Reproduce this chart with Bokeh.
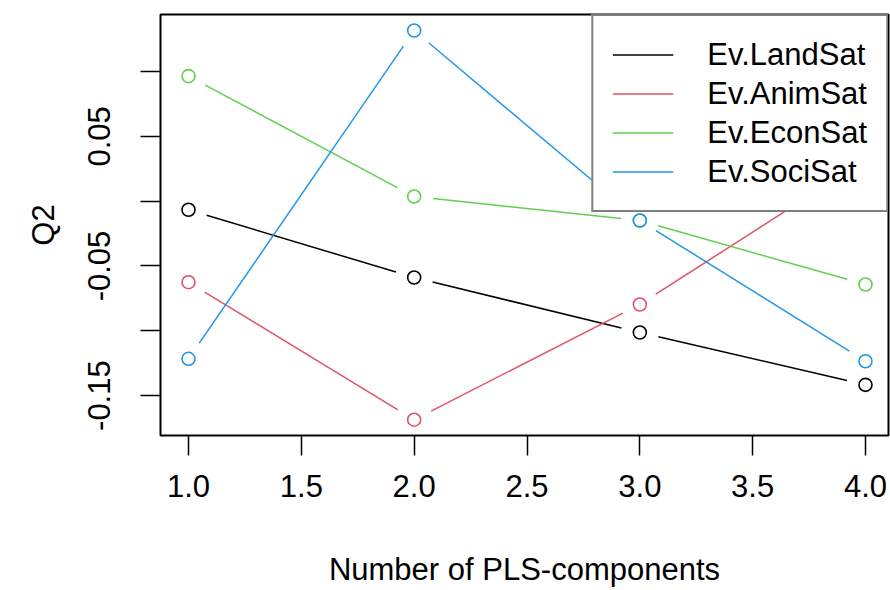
import numpy as np
from bokeh.plotting import figure
from bokeh.models import FixedTicker, PrintfTickFormatter, Range1d, Legend, LegendItem
from bokeh.embed import file_html
from bokeh.resources import INLINE

# ---- data ----
components = [1, 2, 3, 4]
land_sat = [-0.0066, -0.0589, -0.1013, -0.1417]
anim_sat = [-0.0625, -0.1686, -0.0797, 0.0320]
econ_sat = [0.0965, 0.0036, -0.0149, -0.0643]
soci_sat = [-0.1216, 0.1317, -0.0149, -0.1235]
series_names = ["Ev.LandSat", "Ev.AnimSat", "Ev.EconSat", "Ev.SociSat"]
series_values = [land_sat, anim_sat, econ_sat, soci_sat]
colors = ["#000000", "#DF536B", "#61D04F", "#2297E6"]
x_ticks = [1.0, 1.5, 2.0, 2.5, 3.0, 3.5, 4.0]
y_ticks_labelled = [-0.15, -0.05, 0.05]
y_ticks_unlabelled = [-0.10, 0.0, 0.10]

# ---- layout ----
W, H = 890, 590
BL, BR, BT, BB = 160, 2, 14, 155
x_start, x_end = 0.8759, 4.1019
y_start, y_end = -0.18079, 0.14406
FONT = "Liberation Sans"

p = figure(width=W, height=H, output_backend="svg", toolbar_location=None,
           x_range=Range1d(x_start, x_end), y_range=Range1d(y_start, y_end),
           min_border_left=BL, min_border_right=BR, min_border_top=BT, min_border_bottom=BB,
           background_fill_color="white", border_fill_color="white")
p.grid.visible = False
p.outline_line_color = "black"
p.outline_line_width = 2
p.outline_line_alpha = 1

# type="b": lines with gaps around the points
frame_w = W - BL - BR
frame_h = H - BT - BB
sx = frame_w / (x_end - x_start)
sy = frame_h / (y_end - y_start)
gap = 19.0

items = []
for name, vals, col in zip(series_names, series_values, colors):
    x0s, y0s, x1s, y1s = [], [], [], []
    for i in range(len(components) - 1):
        xa, ya = components[i], vals[i]
        xb, yb = components[i + 1], vals[i + 1]
        dxp, dyp = (xb - xa) * sx, (yb - ya) * sy
        L = float(np.hypot(dxp, dyp))
        if L <= 2 * gap:
            continue
        f = gap / L
        x0s.append(xa + (xb - xa) * f)
        y0s.append(ya + (yb - ya) * f)
        x1s.append(xb - (xb - xa) * f)
        y1s.append(yb - (yb - ya) * f)
    seg = p.segment(x0=x0s, y0=y0s, x1=x1s, y1=y1s, line_color=col, line_width=1.5)
    p.scatter(x=components, y=vals, marker="circle", size=13, fill_color=None,
              line_color=col, line_width=1.6)
    items.append(LegendItem(label=name, renderers=[seg]))

legend = Legend(items=items, location="top_right", margin=0, padding=19,
                glyph_width=61, glyph_height=39, label_height=39, spacing=0,
                label_standoff=34, label_text_font=FONT, label_text_font_size="31px",
                label_text_color="black", border_line_color="black", border_line_width=2,
                background_fill_color="white", background_fill_alpha=1.0)
p.add_layout(legend, "center")

# x axis
xa = p.xaxis[0]
xa.ticker = FixedTicker(ticks=x_ticks)
xa.formatter = PrintfTickFormatter(format="%.1f")
xa.axis_label = "Number of PLS-components"
xa.axis_label_text_font = FONT
xa.axis_label_text_font_style = "normal"
xa.axis_label_text_font_size = "31px"
xa.axis_label_text_color = "black"
xa.axis_label_text_line_height = 0.8
xa.axis_label_standoff = 52
xa.major_label_text_font = FONT
xa.major_label_text_font_size = "31px"
xa.major_label_text_color = "black"
xa.major_label_standoff = 19
xa.major_tick_out = 20
xa.major_tick_in = 0
xa.major_tick_line_width = 1.5
xa.major_tick_line_color = "black"
xa.minor_tick_line_color = None
xa.axis_line_color = None

# y axis
ya_ = p.yaxis[0]
ya_.ticker = FixedTicker(ticks=y_ticks_labelled, minor_ticks=y_ticks_unlabelled)
ya_.formatter = PrintfTickFormatter(format="%.2f")
ya_.axis_label = "Q2"
ya_.axis_label_text_font = FONT
ya_.axis_label_text_font_style = "normal"
ya_.axis_label_text_font_size = "31px"
ya_.axis_label_text_color = "black"
ya_.axis_label_standoff = 25
ya_.major_label_text_font = FONT
ya_.major_label_text_font_size = "31px"
ya_.major_label_text_color = "black"
ya_.major_label_orientation = "vertical"
ya_.major_label_standoff = 30
ya_.major_tick_out = 20
ya_.major_tick_in = 0
ya_.minor_tick_out = 20
ya_.minor_tick_in = 0
ya_.major_tick_line_width = 1.5
ya_.minor_tick_line_width = 1.5
ya_.major_tick_line_color = "black"
ya_.minor_tick_line_color = "black"
ya_.axis_line_color = None

open("out.html", "w").write(file_html(p, INLINE))
